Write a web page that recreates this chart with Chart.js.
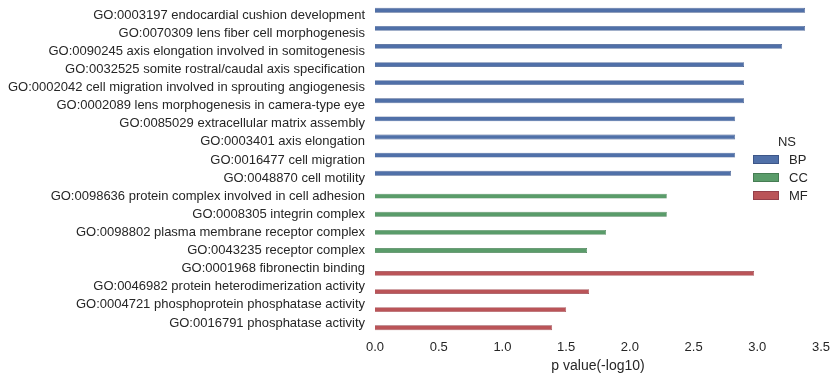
<!DOCTYPE html>
<html>
<head>
<meta charset="utf-8">
<script src="https://cdn.jsdelivr.net/npm/chart.js@4/dist/chart.umd.min.js"></script>
<style>
html,body{margin:0;padding:0;background:#fff;}
#wrap{width:837px;height:379px;position:relative;}
</style>
</head>
<body>
<div id="wrap"><canvas id="c" width="837" height="379"></canvas></div>
<script>
const categories = [
  "GO:0003197 endocardial cushion development",
  "GO:0070309 lens fiber cell morphogenesis",
  "GO:0090245 axis elongation involved in somitogenesis",
  "GO:0032525 somite rostral/caudal axis specification",
  "GO:0002042 cell migration involved in sprouting angiogenesis",
  "GO:0002089 lens morphogenesis in camera-type eye",
  "GO:0085029 extracellular matrix assembly",
  "GO:0003401 axis elongation",
  "GO:0016477 cell migration",
  "GO:0048870 cell motility",
  "GO:0098636 protein complex involved in cell adhesion",
  "GO:0008305 integrin complex",
  "GO:0098802 plasma membrane receptor complex",
  "GO:0043235 receptor complex",
  "GO:0001968 fibronectin binding",
  "GO:0046982 protein heterodimerization activity",
  "GO:0004721 phosphoprotein phosphatase activity",
  "GO:0016791 phosphatase activity"
];
const seriesNames = ["BP", "CC", "MF"];
const bpValues = [3.375, 3.375, 3.195, 2.896, 2.896, 2.896, 2.826, 2.826, 2.826, 2.794,
  null, null, null, null, null, null, null, null];
const ccValues = [null, null, null, null, null, null, null, null, null, null,
  2.29, 2.29, 1.813, 1.664, null, null, null, null];
const mfValues = [null, null, null, null, null, null, null, null, null, null,
  null, null, null, null, 2.975, 1.68, 1.50, 1.39];
const xTicks = [0, 0.5, 1.0, 1.5, 2.0, 2.5, 3.0, 3.5];
const xTitle = "p value(-log10)";
const legendTitle = "NS";

const fills = ["#5070A8", "#5A9C6A", "#BA5458"];
const edges = ["#3d5688", "#467d53", "#94404a"];
const FONT = "'Liberation Sans', Arial, sans-serif";
const TXT = "#262626";

const legendPlugin = {
  id: 'nsLegend',
  afterDraw(chart) {
    const ctx = chart.ctx;
    const ca = chart.chartArea;
    const x0 = ca.right - 68;
    const y0 = 142;
    ctx.save();
    ctx.font = "13px " + FONT;
    ctx.fillStyle = TXT;
    ctx.textBaseline = 'middle';
    ctx.textAlign = 'center';
    ctx.fillText(legendTitle, x0 + 34, y0);
    ctx.textAlign = 'left';
    chart.data.datasets.forEach((ds, i) => {
      const yy = y0 + 17 + i * 18;
      ctx.fillStyle = ds.backgroundColor;
      ctx.fillRect(x0, yy - 4, 26, 9);
      ctx.strokeStyle = ds.borderColor;
      ctx.lineWidth = 1;
      ctx.strokeRect(x0 + 0.5, yy - 3.5, 25, 8);
      ctx.fillStyle = TXT;
      ctx.fillText(ds.label, x0 + 36, yy + 1);
    });
    ctx.restore();
  }
};

new Chart(document.getElementById('c'), {
  type: 'bar',
  data: {
    labels: categories,
    datasets: [
      { label: seriesNames[0], data: bpValues, backgroundColor: fills[0], borderColor: edges[0], borderWidth: 0.6 },
      { label: seriesNames[1], data: ccValues, backgroundColor: fills[1], borderColor: edges[1], borderWidth: 0.6 },
      { label: seriesNames[2], data: mfValues, backgroundColor: fills[2], borderColor: edges[2], borderWidth: 0.6 }
    ]
  },
  options: {
    indexAxis: 'y',
    responsive: false,
    animation: false,
    devicePixelRatio: 1,
    layout: { padding: { left: 0, right: 16, top: 6, bottom: 0 } },
    datasets: { bar: { categoryPercentage: 0.8, barPercentage: 1.0 } },
    plugins: { legend: { display: false }, tooltip: { enabled: false } },
    scales: {
      x: {
        type: 'linear',
        min: 0, max: 3.5,
        afterBuildTicks(scale) { scale.ticks = xTicks.map(v => ({ value: v })); },
        afterFit(scale) { scale.height = 47; scale.paddingLeft = 0; scale.paddingRight = 0; },
        grid: { display: false, drawTicks: false },
        border: { display: false },
        ticks: {
          padding: 8,
          color: TXT,
          font: { family: FONT, size: 13 },
          callback: v => Number(v).toFixed(1)
        },
        title: { display: true, text: xTitle, color: TXT, font: { family: FONT, size: 14 }, padding: { top: 2, bottom: 4 } }
      },
      y: {
        type: 'category',
        offset: true,
        afterFit(scale) { scale.width = 375; scale.paddingTop = 0; scale.paddingBottom = 0; },
        grid: { display: false, drawTicks: false },
        border: { display: false },
        ticks: {
          padding: 10,
          color: TXT,
          autoSkip: false,
          font: { family: FONT, size: 13 }
        }
      }
    }
  },
  plugins: [legendPlugin]
});
</script>
</body>
</html>
